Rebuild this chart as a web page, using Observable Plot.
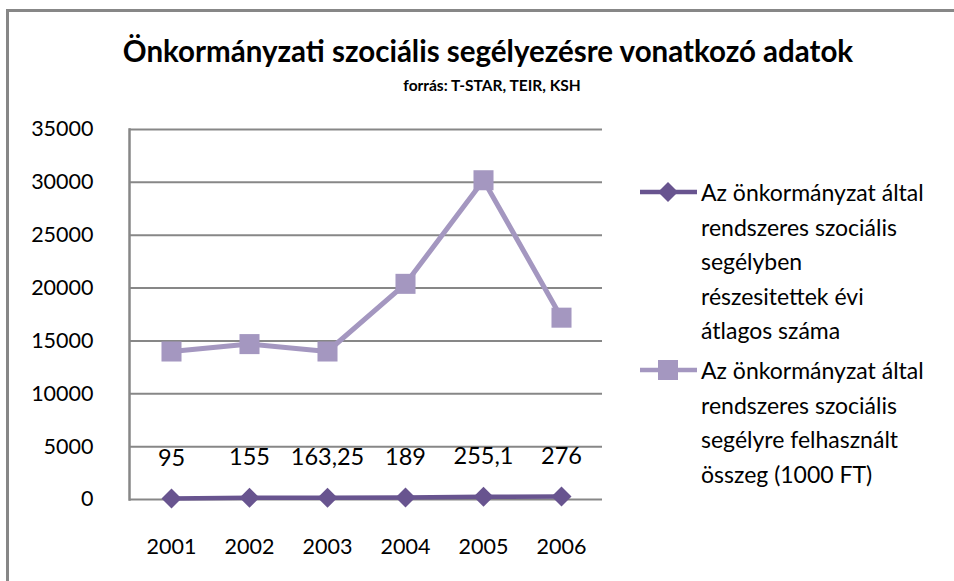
<!DOCTYPE html>
<html><head><meta charset="utf-8">
<script src="https://cdn.jsdelivr.net/npm/d3@7"></script>
<script src="https://cdn.jsdelivr.net/npm/@observablehq/plot@0.6"></script>
<style>
body{margin:0;background:#fff;font-family:Lato,"Open Sans",sans-serif;}
#wrap{position:relative;width:954px;height:581px;overflow:hidden;background:#fff;}
#border{position:absolute;left:6px;top:9px;width:1000px;height:700px;border-left:3px solid #878787;border-top:3px solid #878787;}
#chart{position:absolute;left:0;top:0;}
#title{position:absolute;left:0;width:976px;top:33px;text-align:center;font-weight:bold;font-size:29.5px;color:#000;}
#subtitle{position:absolute;left:0;width:984px;top:76px;text-align:center;font-weight:bold;font-size:15.5px;color:#000;}
.leg{position:absolute;left:638px;font-size:23px;line-height:34.5px;color:#000;}
.leg svg{position:absolute;left:0;top:0;}
.leg div{margin-left:63px;}
</style></head>
<body>
<div id="wrap">
<div id="border"></div>
<div id="chart"></div>
<div id="title"></div>
<div id="subtitle"></div>
<div id="legend"></div>
</div>
<script>
const titleText = "Önkormányzati szociális segélyezésre vonatkozó adatok";
const subtitleText = "forrás: T-STAR, TEIR, KSH";
const years = ["2001", "2002", "2003", "2004", "2005", "2006"];
const seriesNames = [
  "Az önkormányzat által rendszeres szociális segélyben részesitettek évi átlagos száma",
  "Az önkormányzat által rendszeres szociális segélyre felhasznált összeg (1000 FT)"
];
const legendLines = [
  ["Az önkormányzat által", "rendszeres szociális", "segélyben", "részesitettek évi", "átlagos száma"],
  ["Az önkormányzat által", "rendszeres szociális", "segélyre felhasznált", "összeg (1000 FT)"]
];
const recipients = [95, 155, 163.25, 189, 255.1, 276];
const amount = [14000, 14700, 14000, 20400, 30200, 17200];
const yTicks = [0, 5000, 10000, 15000, 20000, 25000, 30000, 35000];
const colors = ["#68548f", "#a497c0"];

document.getElementById("title").textContent = titleText;
document.getElementById("subtitle").textContent = subtitleText;

const d1 = years.map((y, i) => ({year: y, value: recipients[i], series: seriesNames[0]}));
const d2 = years.map((y, i) => ({year: y, value: amount[i], series: seriesNames[1]}));

const chart = Plot.plot({
  width: 954,
  height: 581,
  marginLeft: 129,
  marginRight: 352,
  marginTop: 129,
  marginBottom: 82,
  style: {fontFamily: "Lato, 'Open Sans', sans-serif", background: "transparent", color: "#000"},
  x: {type: "point", domain: years, padding: 0.5, label: null},
  y: {domain: [0, 35000], label: null},
  marks: [
    Plot.ruleY(yTicks, {stroke: "#878787", strokeWidth: 2}),
    Plot.frame({anchor: "left", stroke: "#878787", strokeWidth: 2.5}),
    Plot.axisY({ticks: yTicks, tickSize: 0, tickPadding: 36, fontSize: 21.5, tickFormat: d => String(d), label: null}),
    Plot.axisX({tickSize: 0, tickPadding: 39, fontSize: 21.5, label: null}),
    Plot.line(d2, {x: "year", y: "value", stroke: colors[1], strokeWidth: 5}),
    Plot.dot(d2, {x: "year", y: "value", symbol: "square", r: 11.3, fill: colors[1], stroke: "none"}),
    Plot.line(d1, {x: "year", y: "value", stroke: colors[0], strokeWidth: 4.5}),
    Plot.dot(d1, {x: "year", y: "value", symbol: "diamond2", r: 9, fill: colors[0], stroke: "none"}),
    Plot.text(d1, {x: "year", y: "value", text: d => String(d.value).replace(".", ","), dy: -40, fontSize: 23.5, fill: "#000"})
  ]
});
document.getElementById("chart").appendChild(chart);

// legend
const legend = document.getElementById("legend");
const legTops = [175, 353];
legendLines.forEach((lines, i) => {
  const item = document.createElement("div");
  item.className = "leg";
  item.style.top = legTops[i] + "px";
  const svg = d3.create("svg").attr("width", 62).attr("height", 34);
  svg.append("line").attr("x1", 2).attr("x2", 59).attr("y1", 17).attr("y2", 17)
    .attr("stroke", colors[i]).attr("stroke-width", 4.5);
  const sym = i === 0 ? d3.symbol(d3.symbolDiamond2, 255) : d3.symbol(d3.symbolSquare, 400);
  svg.append("path").attr("d", sym()).attr("transform", "translate(30,17)").attr("fill", colors[i]);
  item.appendChild(svg.node());
  const txt = document.createElement("div");
  txt.innerHTML = lines.join("<br>");
  item.appendChild(txt);
  legend.appendChild(item);
});
</script>
</body></html>
